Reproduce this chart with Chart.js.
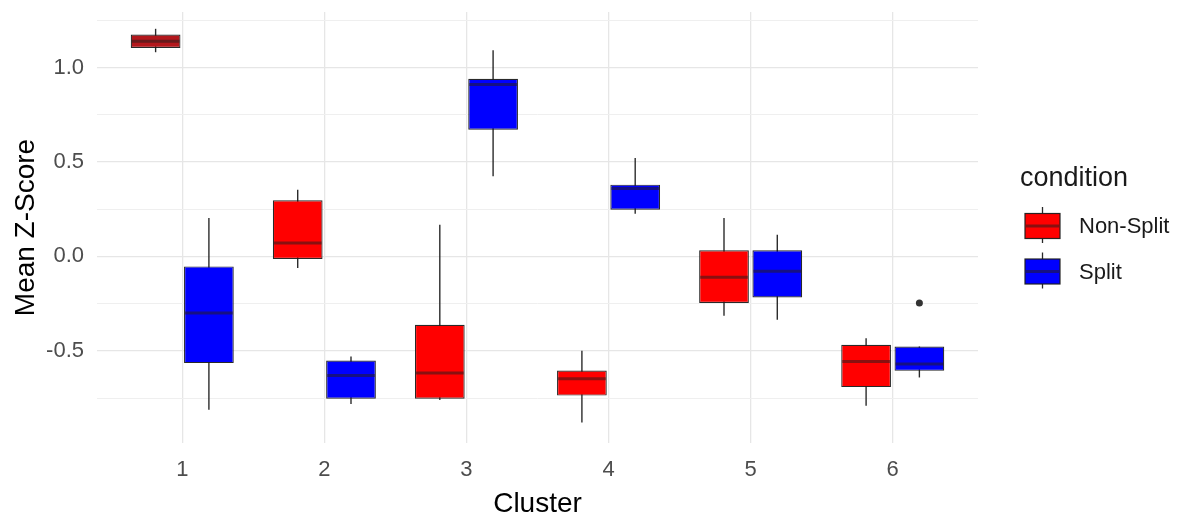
<!DOCTYPE html>
<html>
<head>
<meta charset="utf-8">
<script src="https://cdn.jsdelivr.net/npm/chart.js@4.4.1/dist/chart.umd.min.js"></script>
<style>
  html, body { margin: 0; padding: 0; background: #ffffff; }
  #wrap { width: 1191px; height: 516px; position: relative; }
</style>
</head>
<body>
<div id="wrap"><canvas id="chart" width="1191" height="516"></canvas></div>
<script>
// Cluster categories
const clusters = [1, 2, 3, 4, 5, 6];

// Non-Split summary statistics per cluster
const nsMin = [1.081, -0.061, -0.760, -0.880, -0.314, -0.791];
const nsQ1  = [1.104, -0.014, -0.754, -0.737, -0.247, -0.692];
const nsMed = [1.139,  0.071, -0.618, -0.648, -0.111, -0.556];
const nsQ3  = [1.175,  0.297, -0.362, -0.604,  0.032, -0.468];
const nsMax = [1.205,  0.353,  0.168, -0.500,  0.203, -0.433];

// Split summary statistics per cluster
const sMin = [-0.812, -0.781, 0.424, 0.226, -0.335, -0.641];
const sQ1  = [-0.565, -0.754, 0.671, 0.247, -0.217, -0.606];
const sMed = [-0.300, -0.631, 0.910, 0.360, -0.079, -0.570];
const sQ3  = [-0.053, -0.551, 0.940, 0.380,  0.032, -0.477];
const sMax = [ 0.203, -0.530, 1.092, 0.521,  0.115, -0.477];

// Outliers (Split)
const outlierCluster = [6];
const outlierValue = [-0.247];

// Axis ticks
const yMajorTicks = [-0.5, 0.0, 0.5, 1.0];
const seriesNames = ['Non-Split', 'Split'];

// Styling
const NS_COLOR = '#ff0000';
const S_COLOR = '#0000ff';
const NS_FILLS = ['#b3171c', NS_COLOR, NS_COLOR, NS_COLOR, NS_COLOR, NS_COLOR];
const LINE_COLOR = 'rgba(30,30,30,0.95)';
const MEDIAN_COLOR = 'rgba(40,30,30,0.55)';
const DODGE = 0.75 / 4;          // half of a dodged slot, in cluster units
const FONT = '"Liberation Sans", Arial, Helvetica, sans-serif';

const boxData = (q1, q3) => clusters.map((c, i) => ({ x: c, y: [q1[i], q3[i]] }));
const whiskerData = (lo, hi) => clusters.map((c, i) => ({ x: c, y: [lo[i], hi[i]] }));

const medians = [nsMed, sMed];

const boxPlugin = {
  id: 'boxExtras',
  afterDatasetsDraw(chart) {
    const ctx = chart.ctx;
    const yScale = chart.scales.y;
    [0, 1].forEach(di => {
      const meta = chart.getDatasetMeta(di);
      meta.data.forEach((el, i) => {
        const y = yScale.getPixelForValue(medians[di][i]);
        const half = el.width / 2;
        ctx.save();
        ctx.strokeStyle = MEDIAN_COLOR;
        ctx.lineWidth = 3;
        ctx.beginPath();
        ctx.moveTo(el.x - half + 1, y);
        ctx.lineTo(el.x + half - 1, y);
        ctx.stroke();
        ctx.restore();
      });
    });
  },
  afterDraw(chart) {
    // legend: title + boxplot keys
    const ctx = chart.ctx;
    const area = chart.chartArea;
    const lx = area.right + 42;
    ctx.save();
    ctx.fillStyle = '#1a1a1a';
    ctx.font = '27px ' + FONT;
    ctx.textAlign = 'left';
    ctx.textBaseline = 'alphabetic';
    ctx.fillText('condition', lx, 186);
    const keyColors = [NS_COLOR, S_COLOR];
    const centers = [226, 271.5];
    seriesNames.forEach((name, k) => {
      const cy = centers[k];
      const kx = lx + 5, kw = 35, kh = 25;
      const cx = kx + kw / 2;
      ctx.strokeStyle = LINE_COLOR;
      ctx.lineWidth = 1.3;
      ctx.beginPath();
      ctx.moveTo(cx, cy - 19);
      ctx.lineTo(cx, cy + 17);
      ctx.stroke();
      ctx.fillStyle = keyColors[k];
      ctx.fillRect(kx, cy - kh / 2, kw, kh);
      ctx.lineWidth = 1.2;
      ctx.strokeRect(kx, cy - kh / 2, kw, kh);
      ctx.strokeStyle = MEDIAN_COLOR;
      ctx.lineWidth = 3;
      ctx.beginPath();
      ctx.moveTo(kx + 1, cy);
      ctx.lineTo(kx + kw - 1, cy);
      ctx.stroke();
      ctx.fillStyle = '#1a1a1a';
      ctx.font = '22px ' + FONT;
      ctx.textBaseline = 'middle';
      ctx.fillText(name, lx + 59, cy + 1);
    });
    ctx.restore();
  }
};

new Chart(document.getElementById('chart'), {
  type: 'bar',
  data: {
    datasets: [
      {
        label: seriesNames[0], stack: 'ns', order: 1,
        data: boxData(nsQ1, nsQ3),
        backgroundColor: NS_FILLS, borderColor: LINE_COLOR, borderWidth: 1.2, borderSkipped: false,
        categoryPercentage: 0.75, barPercentage: 0.7 / 0.75
      },
      {
        label: seriesNames[1], stack: 's', order: 1,
        data: boxData(sQ1, sQ3),
        backgroundColor: S_COLOR, borderColor: LINE_COLOR, borderWidth: 1.2, borderSkipped: false,
        categoryPercentage: 0.75, barPercentage: 0.7 / 0.75
      },
      {
        label: seriesNames[0] + ' range', stack: 'ns', order: 2,
        data: whiskerData(nsMin, nsMax),
        backgroundColor: LINE_COLOR, borderWidth: 0,
        categoryPercentage: 0.75, barPercentage: 0.026
      },
      {
        label: seriesNames[1] + ' range', stack: 's', order: 2,
        data: whiskerData(sMin, sMax),
        backgroundColor: LINE_COLOR, borderWidth: 0,
        categoryPercentage: 0.75, barPercentage: 0.026
      },
      {
        type: 'scatter', label: 'outliers', order: 0,
        data: outlierCluster.map((c, i) => ({ x: c + DODGE, y: outlierValue[i] })),
        backgroundColor: '#333333', borderColor: '#333333', pointRadius: 3.5, pointBorderWidth: 0
      }
    ]
  },
  options: {
    responsive: false,
    animation: false,
    devicePixelRatio: 1,
    layout: { padding: { left: 0, top: 12, right: 213, bottom: 0 } },
    plugins: { legend: { display: false }, tooltip: { enabled: false } },
    scales: {
      x: {
        type: 'linear', min: 0.4, max: 6.6, offset: false,
        border: { display: false },
        grid: { offset: false, drawTicks: false, color: '#e6e6e6', lineWidth: 1.3 },
        ticks: {
          stepSize: 1, includeBounds: false, padding: 14,
          color: '#4d4d4d', font: { family: FONT, size: 22 },
          callback: v => String(v)
        },
        title: { display: true, text: 'Cluster', color: '#000', font: { family: FONT, size: 28, lineHeight: 0.85 }, padding: 0 },
        afterFit: s => { s.height = 73; s.paddingLeft = 0; s.paddingRight = 0; }
      },
      y: {
        type: 'linear', min: -0.988, max: 1.294, stacked: false,
        border: { display: false },
        grid: {
          drawTicks: false,
          color: c => yMajorTicks.some(t => Math.abs(t - c.tick.value) < 1e-6) ? '#e6e6e6' : '#efefef',
          lineWidth: c => yMajorTicks.some(t => Math.abs(t - c.tick.value) < 1e-6) ? 1.3 : 1
        },
        ticks: {
          stepSize: 0.25, includeBounds: false, padding: 13,
          color: '#4d4d4d', font: { family: FONT, size: 22 },
          callback: v => yMajorTicks.some(t => Math.abs(t - v) < 1e-6) ? v.toFixed(1) : ''
        },
        title: { display: true, text: 'Mean Z-Score', color: '#000', font: { family: FONT, size: 28 }, padding: { top: 9, bottom: 0 } },
        afterFit: s => { s.width = 97; s.paddingTop = 0; s.paddingBottom = 0; }
      }
    }
  },
  plugins: [boxPlugin]
});
</script>
</body>
</html>
